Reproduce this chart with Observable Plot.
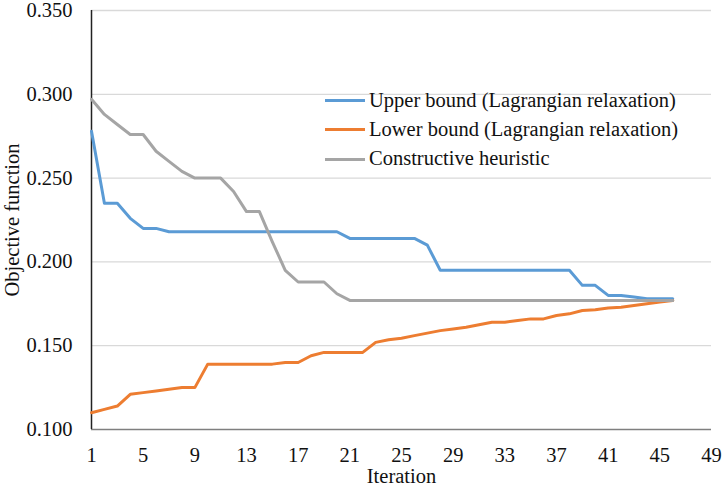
<!DOCTYPE html>
<html>
<head>
<meta charset="utf-8">
<script src="https://cdn.jsdelivr.net/npm/d3@7"></script>
<script src="https://cdn.jsdelivr.net/npm/@observablehq/plot@0.6"></script>
<style>
  html, body { margin: 0; padding: 0; background: #fff; }
  #wrap { position: relative; width: 722px; height: 490px; font-family: "Liberation Serif", "Times New Roman", serif; }
  #legend { position: absolute; left: 325px; top: 86px; font-size: 20.5px; color: #111; line-height: 29.2px; }
  #legend .row { display: flex; align-items: center; white-space: nowrap; }
  #legend .sw { width: 40px; height: 3px; margin-right: 4px; }
</style>
</head>
<body>
<div id="wrap"><div id="chart"></div><div id="legend"></div></div>
<script>
const seriesNames = ["Upper bound (Lagrangian relaxation)", "Lower bound (Lagrangian relaxation)", "Constructive heuristic"];
const seriesColors = ["#5B9BD5", "#ED7D31", "#A5A5A5"];

const upperBound = [0.278, 0.235, 0.235, 0.226, 0.220, 0.220, 0.218, 0.218, 0.218, 0.218,
  0.218, 0.218, 0.218, 0.218, 0.218, 0.218, 0.218, 0.218, 0.218, 0.218,
  0.214, 0.214, 0.214, 0.214, 0.214, 0.214, 0.210, 0.195, 0.195, 0.195,
  0.195, 0.195, 0.195, 0.195, 0.195, 0.195, 0.195, 0.195, 0.186, 0.186,
  0.180, 0.180, 0.179, 0.178, 0.178, 0.178];

const lowerBound = [0.110, 0.112, 0.114, 0.121, 0.122, 0.123, 0.124, 0.125, 0.125, 0.139,
  0.139, 0.139, 0.139, 0.139, 0.139, 0.140, 0.140, 0.144, 0.146, 0.146,
  0.146, 0.146, 0.152, 0.1535, 0.1545, 0.156, 0.1575, 0.159, 0.160, 0.161,
  0.1625, 0.164, 0.164, 0.165, 0.166, 0.166, 0.168, 0.169, 0.171, 0.1715,
  0.1725, 0.173, 0.174, 0.175, 0.176, 0.177];

const heuristic = [0.297, 0.288, 0.282, 0.276, 0.276, 0.266, 0.260, 0.254, 0.250, 0.250,
  0.250, 0.242, 0.230, 0.230, 0.212, 0.195, 0.188, 0.188, 0.188, 0.181,
  0.177, 0.177, 0.177, 0.177, 0.177, 0.177, 0.177, 0.177, 0.177, 0.177,
  0.177, 0.177, 0.177, 0.177, 0.177, 0.177, 0.177, 0.177, 0.177, 0.177,
  0.177, 0.177, 0.177, 0.177, 0.177, 0.177];

const xTicks = [1, 5, 9, 13, 17, 21, 25, 29, 33, 37, 41, 45, 49];
const yTicks = [0.100, 0.150, 0.200, 0.250, 0.300, 0.350];

const allSeries = [upperBound, lowerBound, heuristic];
const data = allSeries.flatMap((vals, s) => vals.map((v, i) => ({iter: i + 1, value: v, series: seriesNames[s]})));

const chart = Plot.plot({
  width: 722,
  height: 490,
  marginLeft: 91,
  marginRight: 11,
  marginTop: 10,
  marginBottom: 61,
  style: {fontFamily: "Liberation Serif, Times New Roman, serif", fontSize: "20.5px", color: "#111", background: "#fff", overflow: "visible"},
  x: {domain: [1, 49]},
  y: {domain: [0.1, 0.35]},
  color: {domain: seriesNames, range: seriesColors},
  marks: [
    Plot.gridY(yTicks.filter(d => d > 0.1), {stroke: "#D9D9D9", strokeOpacity: 1, strokeWidth: 1.3}),
    Plot.ruleY([0.1], {stroke: "#7F7F7F", strokeWidth: 1.5}),
    Plot.ruleX([1], {stroke: "#222", strokeWidth: 1.5}),
    Plot.axisX({ticks: xTicks, tickSize: 0, tickPadding: 18, tickFormat: d => String(d), fontSize: 20.5,
      label: "Iteration", labelAnchor: "center", labelOffset: 53, labelArrow: false}),
    Plot.axisY({ticks: yTicks, tickSize: 0, tickPadding: 19, tickFormat: d3.format(".3f"), fontSize: 20.5,
      label: "Objective function", labelAnchor: "center", labelOffset: 87, labelArrow: false}),
    Plot.line(data, {x: "iter", y: "value", z: "series", stroke: "series", strokeWidth: 3, strokeLinejoin: "round"})
  ]
});
document.getElementById("chart").appendChild(chart);

const legend = document.getElementById("legend");
seriesNames.forEach((name, i) => {
  const row = document.createElement("div");
  row.className = "row";
  const sw = document.createElement("span");
  sw.className = "sw";
  sw.style.background = seriesColors[i];
  const t = document.createElement("span");
  t.textContent = name;
  row.appendChild(sw);
  row.appendChild(t);
  legend.appendChild(row);
});
</script>
</body>
</html>
